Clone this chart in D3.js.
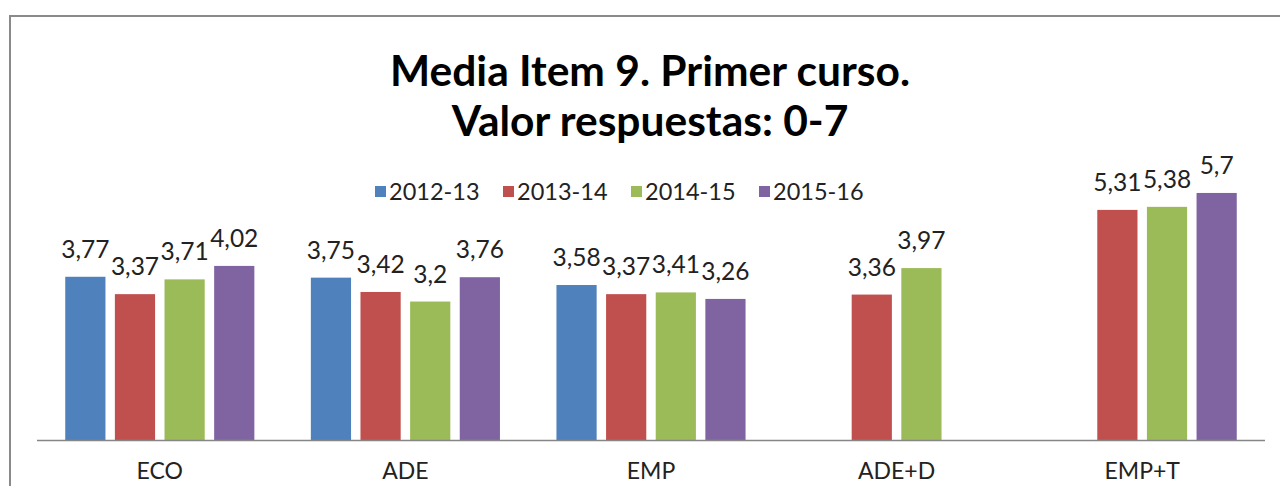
<!DOCTYPE html>
<html>
<head>
<meta charset="utf-8">
<script src="https://cdn.jsdelivr.net/npm/d3@7"></script>
<style>
  body { margin: 0; background: #fff; }
  svg { display: block; font-family: Lato, "Open Sans", sans-serif; }
</style>
</head>
<body>
<svg id="chart"></svg>
<script>
// categories and series (null = no bar)
const categories = ['ECO', 'ADE', 'EMP', 'ADE+D', 'EMP+T']
const seriesNames = ['2012-13', '2013-14', '2014-15', '2015-16']
const values2012 = [3.77, 3.75, 3.58, null, null]
const values2013 = [3.37, 3.42, 3.37, 3.36, 5.31]
const values2014 = [3.71, 3.2, 3.41, 3.97, 5.38]
const values2015 = [4.02, 3.76, 3.26, null, 5.7]
const colors = ['#4F81BD', '#C0504D', '#9BBB59', '#8064A2']
const titleLines = ['Media Item 9. Primer curso.', 'Valor respuestas: 0-7']

const allSeries = [values2012, values2013, values2014, values2015]

const width = 1280, height = 486
const svg = d3.select('#chart').attr('width', width).attr('height', height)

// outer chart frame (runs past the right and bottom edges)
svg.append('rect')
    .attr('x', 10).attr('y', 16)
    .attr('width', 1300).attr('height', 520)
    .attr('fill', '#fff')
    .attr('stroke', '#8a8a8a')
    .attr('stroke-width', 2)

// title
svg.append('g').selectAll('text')
    .data(titleLines)
    .enter().append('text')
    .attr('x', 650)
    .attr('y', (d, i) => 86 + i * 50)
    .attr('text-anchor', 'middle')
    .attr('font-size', 42.5)
    .attr('font-weight', 'bold')
    .attr('fill', '#000')
    .text(d => d)

// legend
const legend = svg.append('g')
    .attr('transform', 'translate(375, 192)')
const legendItem = legend.selectAll('g')
    .data(seriesNames)
    .enter().append('g')
    .attr('transform', (d, i) => `translate(${i * 128}, 0)`)
legendItem.append('rect')
    .attr('x', 0).attr('y', -6)
    .attr('width', 11).attr('height', 11)
    .attr('fill', (d, i) => colors[i])
legendItem.append('text')
    .attr('x', 14).attr('y', 8)
    .attr('font-size', 23.5)
    .attr('fill', '#222')
    .text(d => d)

// scales
const plot = {left: 37, right: 1265, top: 136.5, bottom: 440.5}
const x0 = d3.scaleBand()
    .domain(categories)
    .range([plot.left, plot.right])
    .paddingInner(0.23)
    .paddingOuter(0.115)
const x1 = d3.scaleBand()
    .domain(d3.range(seriesNames.length))
    .range([0, x0.bandwidth()])
    .paddingInner(0.19)
const y = d3.scaleLinear()
    .domain([0, 7])
    .range([plot.bottom, plot.top])

// bars
const bars = []
allSeries.forEach((vals, s) => vals.forEach((v, c) => {
    if (v != null) bars.push({cat: categories[c], s: s, v: v})
}))

const graph = svg.append('g')
graph.selectAll('.bar')
    .data(bars)
    .enter().append('rect')
    .attr('class', 'bar')
    .attr('x', d => x0(d.cat) + x1(d.s))
    .attr('y', d => y(d.v))
    .attr('width', x1.bandwidth())
    .attr('height', d => y(0) - y(d.v))
    .attr('fill', d => colors[d.s])

// value labels, comma decimal
const fmt = v => String(v).replace('.', ',')
graph.selectAll('.label')
    .data(bars)
    .enter().append('text')
    .attr('class', 'label')
    .attr('x', d => x0(d.cat) + x1(d.s) + x1.bandwidth() / 2)
    .attr('y', d => y(d.v) - 19)
    .attr('text-anchor', 'middle')
    .attr('font-size', 24.5)
    .attr('fill', '#222')
    .text(d => fmt(d.v))

// x axis: baseline only, no ticks
const xAxis = d3.axisBottom(x0).tickSize(0).tickPadding(22)
const axisG = svg.append('g')
    .attr('transform', `translate(0, ${plot.bottom})`)
    .call(xAxis)
axisG.select('.domain').attr('stroke', '#868686').attr('stroke-width', 1.5)
    .attr('d', `M${plot.left},0H${plot.right}`)
axisG.selectAll('text')
    .attr('font-size', 23)
    .attr('font-family', 'Lato, "Open Sans", sans-serif')
    .attr('fill', '#222')
</script>
</body>
</html>
